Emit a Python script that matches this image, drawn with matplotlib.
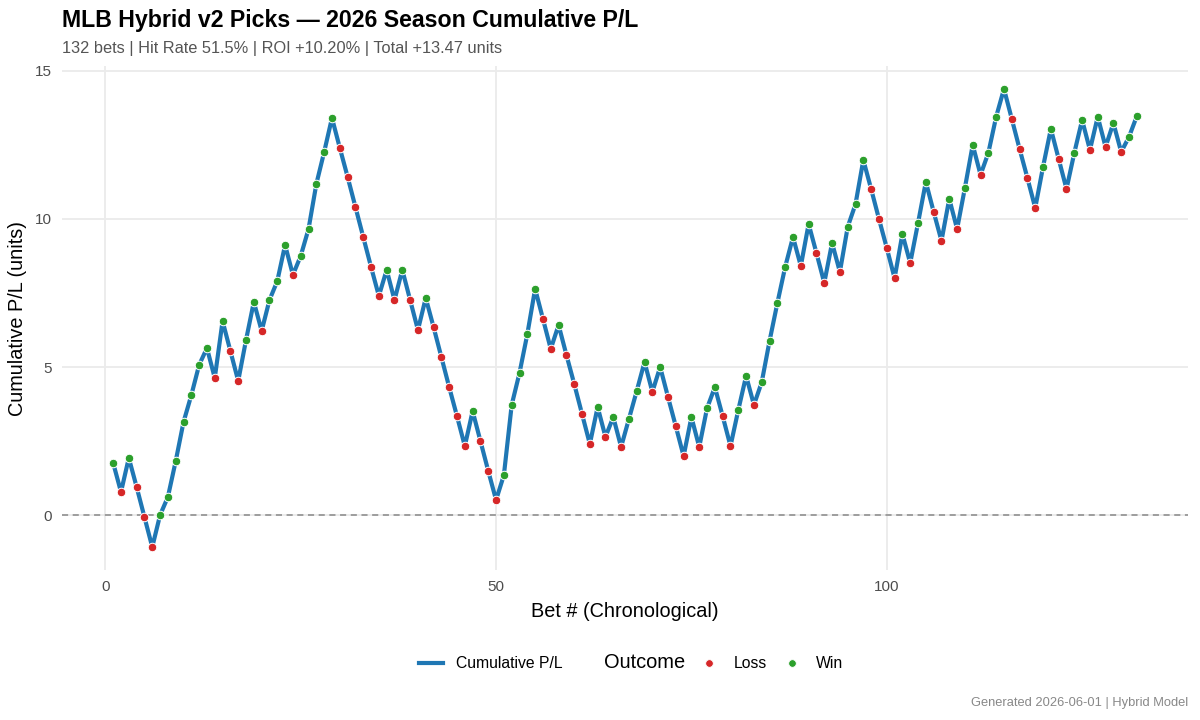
import numpy as np
import matplotlib
matplotlib.use("Agg")
import matplotlib.pyplot as plt
from matplotlib.lines import Line2D

plt.rcParams['font.family'] = ['Liberation Sans', 'DejaVu Sans']

# ---- data ----
cum_pl = [
    1.76, 0.78, 1.93, 0.95, -0.07, -1.08, 0.00, 0.61, 1.82, 3.14,
    4.05, 5.07, 5.64, 4.63, 6.55, 5.54, 4.53, 5.91, 7.20, 6.22,
    7.26, 7.90, 9.12, 8.11, 8.75, 9.66, 11.18, 12.26, 13.41, 12.40,
    11.42, 10.40, 9.39, 8.38, 7.40, 8.28, 7.26, 8.28, 7.26, 6.25,
    7.33, 6.35, 5.34, 4.32, 3.34, 2.33, 3.51, 2.50, 1.49, 0.51,
    1.35, 3.72, 4.80, 6.11, 7.64, 6.62, 5.61, 6.42, 5.41, 4.43,
    3.41, 2.40, 3.65, 2.64, 3.31, 2.30, 3.24, 4.19, 5.17, 4.16,
    5.00, 3.99, 3.00, 1.99, 3.31, 2.30, 3.61, 4.32, 3.34, 2.33,
    3.55, 4.70, 3.72, 4.49, 5.88, 7.16, 8.38, 9.39, 8.41, 9.83,
    8.85, 7.84, 9.19, 8.21, 9.73, 10.50, 11.99, 11.01, 10.00, 9.02,
    8.00, 9.49, 8.51, 9.86, 11.25, 10.24, 9.26, 10.68, 9.66, 11.05,
    12.50, 11.49, 12.23, 13.45, 14.39, 13.38, 12.36, 11.38, 10.37, 11.76,
    13.04, 12.03, 11.01, 12.23, 13.34, 12.33, 13.45, 12.43, 13.24, 12.26,
    12.77, 13.47,
]
outcome = list(
    "WLWLLLWWWW" "WWWLWLLWWL" "WWWLWWWWWL" "LLLLLWLWLL"
    "WLLLLLWLLL" "WWWWWLLWLL" "LLWLWLWWWL" "WLLLWLWWLL"
    "WWLWWWWWLW" "LLWLWWWLLL" "LWLWWLLWLW" "WLWWWLLLLW"
    "WLLWWLWLWL" "WW"
)
bets = list(range(1, len(cum_pl) + 1))

title = "MLB Hybrid v2 Picks \u2014 2026 Season Cumulative P/L"
subtitle = "132 bets | Hit Rate 51.5% | ROI +10.20% | Total +13.47 units"
caption = "Generated 2026-06-01 | Hybrid Model"
x_ticks = [0, 50, 100]
y_ticks = [0, 5, 10, 15]

LINE_C = "#1f77b4"
LOSS_C = "#d62728"
WIN_C = "#2ca02c"
GRID_C = "#ebebeb"
TICK_C = "#4d4d4d"

fig = plt.figure(figsize=(12, 7.2), dpi=100)
ax = fig.add_axes([62/1200, 1-570/720, (1188-62)/1200, (570-66)/720])

x = np.array(bets)
y = np.array(cum_pl)
oc = np.array(outcome)

ax.axhline(0, color="#888888", lw=1.1, ls=(0, (4, 3)), zorder=1)
ax.plot(x, y, color=LINE_C, lw=3.0, solid_joinstyle="round", solid_capstyle="round", zorder=2)
for lab, col in (("L", LOSS_C), ("W", WIN_C)):
    m = oc == lab
    ax.scatter(x[m], y[m], s=38, color=col, edgecolor="white", linewidth=0.7, zorder=3)

xmin, xmax = 1, len(bets)
xr = xmax - xmin
ax.set_xlim(xmin - 0.05*xr, xmax + 0.05*xr)
ymin, ymax = y.min(), y.max()
yr = ymax - ymin
ax.set_ylim(ymin - 0.05*yr, ymax + 0.05*yr)

ax.set_xticks(x_ticks)
ax.set_yticks(y_ticks)
ax.grid(True, color=GRID_C, lw=1.3)
ax.set_axisbelow(True)
for s in ax.spines.values():
    s.set_visible(False)
ax.tick_params(length=0, labelsize=11, labelcolor=TICK_C, pad=7)

ax.set_xlabel("Bet # (Chronological)", fontsize=14.3, labelpad=6)
ax.set_ylabel("Cumulative P/L (units)", fontsize=14.3, labelpad=6)

fig.text(62/1200, 1-20/720, title, fontsize=16.7, fontweight="bold", va="center", ha="left")
fig.text(62/1200, 1-48/720, subtitle, fontsize=11.8, color="#555555", va="center", ha="left")
fig.text(1188/1200, 1-703/720, caption, fontsize=9.3, color="#888888", va="center", ha="right")

# legend
ly = 1 - 663/720
fig.add_artist(Line2D([419/1200, 443/1200], [ly, ly], color=LINE_C, lw=3.0, transform=fig.transFigure))
fig.text(456/1200, ly, "Cumulative P/L", fontsize=11.3, va="center", ha="left")
fig.text(604/1200, ly, "Outcome", fontsize=14.4, va="center", ha="left")
fig.add_artist(Line2D([709/1200], [ly], marker="o", markersize=5.5, color=LOSS_C,
                      markeredgecolor="white", markeredgewidth=0.6, lw=0, transform=fig.transFigure))
fig.text(734/1200, ly, "Loss", fontsize=11.3, va="center", ha="left")
fig.add_artist(Line2D([792/1200], [ly], marker="o", markersize=5.5, color=WIN_C,
                      markeredgecolor="white", markeredgewidth=0.6, lw=0, transform=fig.transFigure))
fig.text(816/1200, ly, "Win", fontsize=11.3, va="center", ha="left")

fig.savefig("out.png", dpi=100, facecolor="white")
